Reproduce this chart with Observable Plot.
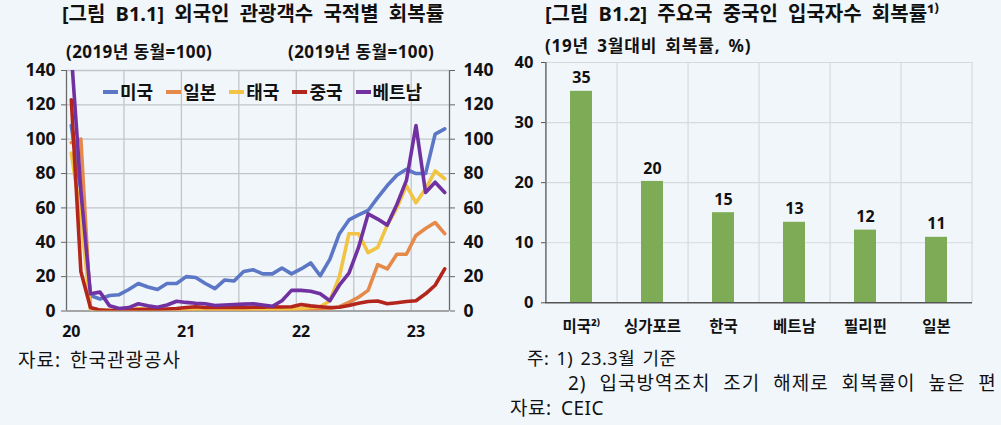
<!DOCTYPE html>
<html><head><meta charset="utf-8">
<script src="https://cdn.jsdelivr.net/npm/d3@7"></script>
<script src="https://cdn.jsdelivr.net/npm/@observablehq/plot@0.6"></script>
<style>
html,body{margin:0;padding:0;background:#f1f6fa;}
#wrap{position:relative;width:1001px;height:425px;overflow:hidden;font-family:"Noto Sans","Noto Sans CJK KR",sans-serif;color:#111;}
.t{position:absolute;white-space:nowrap;line-height:1;}
.b{font-weight:700;}
.chart{position:absolute;top:0;}
.leg{position:absolute;top:83px;left:103px;display:flex;align-items:center;font-weight:700;font-size:18px;line-height:1;}
.leg span.sw{display:inline-block;width:15px;height:4px;margin-right:2px;}
.leg span.lb{margin-right:13px;}
</style></head>
<body><div id="wrap">
<div class="t b" style="left:62px;top:4px;font-size:20px;word-spacing:5px">[그림 B1.1] 외국인 관광객수 국적별 회복률</div>
<div class="t b" style="left:66px;top:43px;font-size:17px;letter-spacing:0.4px">(2019년 동월=100)</div>
<div class="t b" style="left:288px;top:43px;font-size:17px;letter-spacing:0.4px">(2019년 동월=100)</div>
<div class="t b" style="left:545px;top:4px;font-size:20px;word-spacing:5px">[그림 B1.2] 주요국 중국인 입국자수 회복률¹⁾</div>
<div class="t b" style="left:545px;top:37px;font-size:17px;letter-spacing:0.8px;word-spacing:3px">(19년 3월대비 회복률, %)</div>
<div class="t" style="left:18px;top:351px;font-size:19px;letter-spacing:1px;word-spacing:3px">자료: 한국관광공사</div>
<div class="t" style="left:527px;top:349px;font-size:18px;letter-spacing:0.5px;word-spacing:2px">주: 1) 23.3월 기준</div>
<div class="t" style="left:568px;top:374px;font-size:19px;letter-spacing:1px;word-spacing:7px">2) 입국방역조치 조기 해제로 회복률이 높은 편</div>
<div class="t" style="left:510px;top:399px;font-size:19px;letter-spacing:0.5px;word-spacing:4px">자료: CEIC</div>
<div id="left" class="chart" style="left:0"></div>
<div id="right" class="chart" style="left:500px"></div>
<div id="legend" class="leg"></div>
</div>
<script>
// ---- Left chart data (2019 same month = 100), monthly Jan 2020 .. Apr 2023
const seriesNames = ["미국", "일본", "태국", "중국", "베트남"];
const seriesColors = ["#5b77c6", "#e68a4c", "#f2c443", "#b3261c", "#7131a0"];
const yearLabels = ["20", "21", "22", "23"];
const usa = [108,70,9,7,9,9.5,12.5,16,14,12.5,16,16,20,19.5,16,13,18,17.5,23,24,21.6,21.6,25,21.6,24.5,28,20.5,30,45,53,56,58.5,66,73,79,82.5,80,80,103,106];
const japan = [98,100,2,0.5,0.3,0.3,0.3,0.4,0.5,0.5,0.5,0.6,0.6,0.6,0.5,0.5,0.5,0.5,0.5,0.6,0.6,0.6,0.7,0.8,0.8,1,1.2,1.5,2.5,5,8,12,27,24.5,33,33,44,48,51.5,45];
const thailand = [92,55,1,0.3,0.3,0.3,0.5,1.5,0.8,0.5,0.8,1,1,1.2,0.8,0.8,1,1,1,1,1,0.8,1,1.2,1.5,2,2.5,6,20,45,45,34,37,50,60,73,63,71,81.5,77];
const china = [123,23,2,0.5,0.3,0.3,0.5,0.8,1,1,1.2,1.5,2,2.5,2,2,2,2.2,2,2.2,2.2,2.5,2.3,2.5,3.8,3,2.5,2,2.2,3.2,4.5,5.5,5.8,4.2,4.8,5.5,6,10,15,24.5];
const vietnam = [150,70,10,11,3,1.5,2,4.2,3,2.2,3.5,5.7,5,4.5,4.2,3.2,3.5,3.8,4,4.2,3.5,2.8,6,12,12,11.5,10,6,15,22,37,56.5,53.5,50,62,76,108,69,75,69];
const yTicksLeft = [0, 20, 40, 60, 80, 100, 120, 140];

// ---- Right chart data (recovery vs Mar 2019, %)
const countries = ["미국", "싱가포르", "한국", "베트남", "필리핀", "일본"];
const countryLabels = ["미국²⁾", "싱가포르", "한국", "베트남", "필리핀", "일본"];
const recovery = [35.2, 20.2, 15, 13.4, 12.1, 10.9];
const recoveryLabels = ["35", "20", "15", "13", "12", "11"];
const yTicksRight = [0, 10, 20, 30, 40];

const FONT = '"Noto Sans","Noto Sans CJK KR",sans-serif';

// build long table
const allSeries = [usa, japan, thailand, china, vietnam];
const lineData = [];
allSeries.forEach((arr, s) => arr.forEach((v, i) => lineData.push({i, v, s: seriesNames[s]})));
const nMonths = usa.length;
const yearTickPos = yearLabels.map((_, k) => k * 12);
const halfYearBounds = d3.range(5.5, nMonths - 1, 6);

const left = Plot.plot({
  width: 520, height: 345,
  marginLeft: 66, marginRight: 71, marginTop: 70, marginBottom: 34.5,
  style: {background: "transparent", fontFamily: FONT, fontSize: "17px", fontWeight: 700, color: "#111", overflow: "visible"},
  x: {domain: [-0.5, nMonths - 0.5], axis: null},
  y: {domain: [0, 140], axis: null},
  color: {domain: seriesNames, range: seriesColors},
  marks: [
    Plot.ruleY(yTicksLeft.slice(1), {stroke: "#c2c6cb", strokeWidth: 1.3}),
    Plot.ruleX(halfYearBounds, {stroke: "#c2c6cb", strokeWidth: 1.3}),
    Plot.axisY(yTicksLeft, {anchor: "left", tickSize: 5, tickPadding: 6, stroke: "#666", label: null, fontSize: 17.5}),
    Plot.axisY(yTicksLeft, {anchor: "right", tickSize: 5, tickPadding: 9, stroke: "#666", label: null, fontSize: 17.5}),
    Plot.axisX(yearTickPos, {tickSize: 0, tickPadding: 15, tickFormat: (d, k) => yearLabels[k], label: null, fontSize: 16}),
    Plot.ruleX([-0.5, nMonths - 0.5], {stroke: "#6b6b6b", strokeWidth: 1.3}),
    Plot.ruleY([0], {stroke: "#8a8a8a", strokeWidth: 1.5}),
    Plot.line(lineData, {x: "i", y: "v", z: "s", stroke: "s", strokeWidth: 3.6, clip: true, curve: "linear"})
  ]
});
document.getElementById("left").appendChild(left);

// legend
const leg = document.getElementById("legend");
seriesNames.forEach((n, k) => {
  const sw = document.createElement("span"); sw.className = "sw"; sw.style.background = seriesColors[k];
  const lb = document.createElement("span"); lb.className = "lb"; lb.textContent = n;
  leg.appendChild(sw); leg.appendChild(lb);
});

const barData = countries.map((c, k) => ({c, v: recovery[k], label: recoveryLabels[k]}));
const rW = 501, rML = 45, rMR = 29;
const step = (rW - rML - rMR) / countries.length;
const right = Plot.plot({
  width: rW, height: 345,
  marginLeft: rML, marginRight: rMR, marginTop: 62, marginBottom: 42.7,
  style: {background: "transparent", fontFamily: FONT, fontSize: "16px", fontWeight: 700, color: "#111", overflow: "visible"},
  x: {domain: countries, paddingInner: 0.69, paddingOuter: 0.345, axis: null},
  y: {domain: [0, 40], axis: null},
  marks: [
    Plot.ruleY(yTicksRight.slice(1), {stroke: "#d6d9dd", strokeWidth: 1.2}),
    Plot.ruleX(countries, {dx: step / 2, stroke: "#d6d9dd", strokeWidth: 1.2}),
    Plot.barY(barData, {x: "c", y: "v", fill: "#7eab55"}),
    Plot.text(barData, {x: "c", y: "v", text: "label", dy: -13, fontSize: 16, fontWeight: 700, fill: "#111"}),
    Plot.axisY(yTicksRight, {anchor: "left", tickSize: 4, tickPadding: 8, stroke: "#555", label: null, fontSize: 16.5}),
    Plot.axisX(countries, {tickSize: 0, tickPadding: 18, tickFormat: (d) => countryLabels[countries.indexOf(d)], label: null, fontSize: 15.5}),
    Plot.ruleX(countries.slice(0, 1), {dx: -step / 2, stroke: "#555", strokeWidth: 1.3}),
    Plot.ruleY([0], {stroke: "#555", strokeWidth: 1.5})
  ]
});
document.getElementById("right").appendChild(right);
</script>
</body></html>
